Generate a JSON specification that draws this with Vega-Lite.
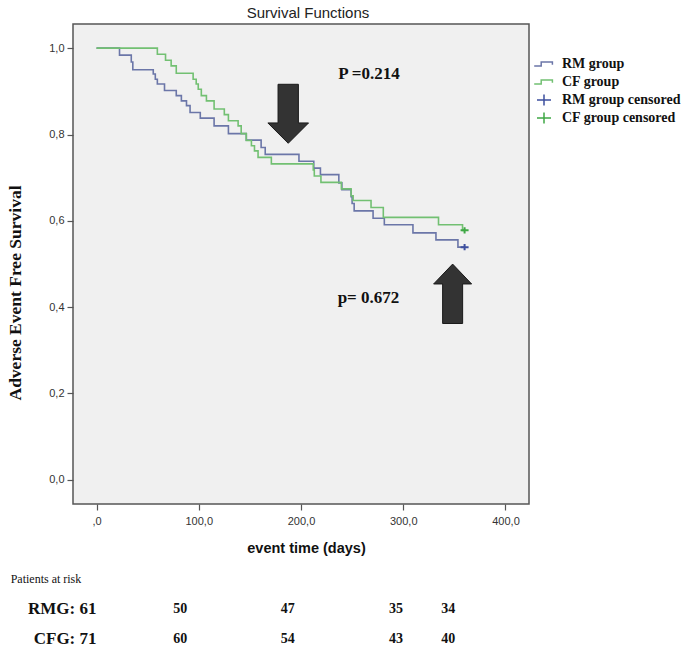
{
  "$schema": "https://vega.github.io/schema/vega-lite/v6.json",
  "background": "white",
  "padding": {"left": 5, "top": 5, "right": 0, "bottom": 0},
  "config": {"view": {"stroke": null}, "font": "Liberation Sans"},
  "datasets": {
    "curves": [
      {"series": "RM group", "time": 0, "surv": 1.0},
      {"series": "RM group", "time": 22.5, "surv": 0.984},
      {"series": "RM group", "time": 34, "surv": 0.968},
      {"series": "RM group", "time": 35.5, "surv": 0.95},
      {"series": "RM group", "time": 55.5, "surv": 0.94},
      {"series": "RM group", "time": 57.5, "surv": 0.928},
      {"series": "RM group", "time": 59.5, "surv": 0.917},
      {"series": "RM group", "time": 66.5, "surv": 0.902},
      {"series": "RM group", "time": 78, "surv": 0.89},
      {"series": "RM group", "time": 83, "surv": 0.878},
      {"series": "RM group", "time": 88, "surv": 0.867},
      {"series": "RM group", "time": 91.5, "surv": 0.851},
      {"series": "RM group", "time": 101.5, "surv": 0.838},
      {"series": "RM group", "time": 115, "surv": 0.82},
      {"series": "RM group", "time": 129, "surv": 0.802},
      {"series": "RM group", "time": 146.5, "surv": 0.787},
      {"series": "RM group", "time": 161, "surv": 0.77},
      {"series": "RM group", "time": 165, "surv": 0.754},
      {"series": "RM group", "time": 198, "surv": 0.738},
      {"series": "RM group", "time": 212.5, "surv": 0.722},
      {"series": "RM group", "time": 219, "surv": 0.707},
      {"series": "RM group", "time": 237, "surv": 0.688},
      {"series": "RM group", "time": 240, "surv": 0.672},
      {"series": "RM group", "time": 249, "surv": 0.656},
      {"series": "RM group", "time": 250, "surv": 0.64},
      {"series": "RM group", "time": 252, "surv": 0.623},
      {"series": "RM group", "time": 270.5, "surv": 0.606},
      {"series": "RM group", "time": 281.5, "surv": 0.591},
      {"series": "RM group", "time": 309.5, "surv": 0.572},
      {"series": "RM group", "time": 332, "surv": 0.556},
      {"series": "RM group", "time": 353.5, "surv": 0.539},
      {"series": "RM group", "time": 360, "surv": 0.539},
      {"series": "CF group", "time": 0, "surv": 1.0},
      {"series": "CF group", "time": 59.5, "surv": 0.986},
      {"series": "CF group", "time": 67.5, "surv": 0.972},
      {"series": "CF group", "time": 73, "surv": 0.959},
      {"series": "CF group", "time": 78, "surv": 0.942},
      {"series": "CF group", "time": 94.5, "surv": 0.928},
      {"series": "CF group", "time": 97.5, "surv": 0.917},
      {"series": "CF group", "time": 99.5, "surv": 0.905},
      {"series": "CF group", "time": 102.5, "surv": 0.89},
      {"series": "CF group", "time": 107.5, "surv": 0.878},
      {"series": "CF group", "time": 115, "surv": 0.859},
      {"series": "CF group", "time": 125, "surv": 0.846},
      {"series": "CF group", "time": 129, "surv": 0.832},
      {"series": "CF group", "time": 138.5, "surv": 0.82},
      {"series": "CF group", "time": 141.5, "surv": 0.802},
      {"series": "CF group", "time": 146.5, "surv": 0.786},
      {"series": "CF group", "time": 151.5, "surv": 0.774},
      {"series": "CF group", "time": 154.5, "surv": 0.762},
      {"series": "CF group", "time": 158, "surv": 0.747},
      {"series": "CF group", "time": 171, "surv": 0.732},
      {"series": "CF group", "time": 212, "surv": 0.718},
      {"series": "CF group", "time": 213, "surv": 0.704},
      {"series": "CF group", "time": 219.5, "surv": 0.689},
      {"series": "CF group", "time": 239.5, "surv": 0.674},
      {"series": "CF group", "time": 249, "surv": 0.658},
      {"series": "CF group", "time": 251, "surv": 0.647},
      {"series": "CF group", "time": 268.5, "surv": 0.631},
      {"series": "CF group", "time": 280.5, "surv": 0.608},
      {"series": "CF group", "time": 334.5, "surv": 0.591},
      {"series": "CF group", "time": 358, "surv": 0.578},
      {"series": "CF group", "time": 360, "surv": 0.578}
    ],
    "censored": [
      {"series": "RM group censored", "time": 360, "surv": 0.539},
      {"series": "CF group censored", "time": 360, "surv": 0.578}
    ],
    "arrows": [
      {"dir": "down", "x": 187.5, "y": 0.848},
      {"dir": "up", "x": 348.3, "y": 0.431}
    ],
    "notes": [
      {"x": 266.5, "y": 0.94, "label": "P =0.214"},
      {"x": 266, "y": 0.422, "label": "p= 0.672"}
    ],
    "risk": [
      {"kind": "header", "row": 1, "pos": -84, "label": "Patients at risk"},
      {"kind": "group", "row": 2, "pos": 0, "label": "RMG: 61"},
      {"kind": "group", "row": 3, "pos": 0, "label": "CFG:  71"},
      {"kind": "count", "row": 2, "pos": 82, "label": "50"},
      {"kind": "count", "row": 2, "pos": 187, "label": "47"},
      {"kind": "count", "row": 2, "pos": 293, "label": "35"},
      {"kind": "count", "row": 2, "pos": 344, "label": "34"},
      {"kind": "count", "row": 3, "pos": 82, "label": "60"},
      {"kind": "count", "row": 3, "pos": 187, "label": "54"},
      {"kind": "count", "row": 3, "pos": 293, "label": "43"},
      {"kind": "count", "row": 3, "pos": 344, "label": "40"}
    ]
  },
  "spacing": 8,
  "resolve": {"scale": {"x": "independent", "y": "independent"}},
  "vconcat": [
    {
      "width": 456,
      "height": 480,
      "title": {"text": "Survival Functions", "font": "Liberation Sans", "fontSize": 15, "fontWeight": "normal", "color": "#222222", "offset": 3, "anchor": "middle", "dx": 7},
      "view": {"fill": "#f0f0f0", "stroke": "#555555", "strokeWidth": 1.5},
      "layer": [
        {
          "data": {"name": "curves"},
          "mark": {"type": "line", "interpolate": "step-after", "strokeWidth": 1.6},
          "encoding": {
            "x": {
              "field": "time", "type": "quantitative",
              "scale": {"domain": [-23, 423], "nice": false, "zero": false},
              "axis": {
                "values": [0, 100, 200, 300, 400],
                "labelExpr": "datum.value == 0 ? ',0' : replace(format(datum.value, '.1f'), '.', ',')",
                "title": "event time  (days)",
                "titleFont": "Liberation Sans", "titleFontWeight": "bold", "titleFontSize": 14.5, "titleColor": "#111111",
                "titlePadding": 15, "titleX": 233,
                "domain": false, "grid": false, "tickColor": "#555555", "tickSize": 6, "tickWidth": 1.2,
                "labelFont": "Liberation Sans", "labelFontSize": 11, "labelColor": "#333333", "labelPadding": 5
              }
            },
            "y": {
              "field": "surv", "type": "quantitative",
              "scale": {"domain": [-0.056, 1.056], "nice": false, "zero": false},
              "axis": {
                "values": [0, 0.2, 0.4, 0.6, 0.8, 1.0],
                "labelExpr": "replace(format(datum.value, '.1f'), '.', ',')",
                "title": "Adverse Event Free Survival",
                "titleFont": "Liberation Serif", "titleFontWeight": "bold", "titleFontSize": 17.5, "titleColor": "#111111",
                "titleX": -52.5, "titleY": 268.5, "titleBaseline": "alphabetic", "titleAngle": 270, "titleAlign": "center",
                "domain": false, "grid": false, "tickColor": "#555555", "tickSize": 6, "tickWidth": 1.2,
                "labelFont": "Liberation Sans", "labelFontSize": 11, "labelColor": "#333333", "labelPadding": 3
              }
            },
            "color": {
              "field": "series", "type": "nominal",
              "scale": {"domain": ["RM group", "CF group", "RM group censored", "CF group censored"], "range": ["#6b76a8", "#72c072", "#3d4f9e", "#3fa845"]},
              "legend": {
                "title": null, "orient": "none", "legendX": 463, "legendY": 32,
                "labelFont": "Liberation Serif", "labelFontWeight": "bold", "labelFontSize": 14, "labelColor": "#111111",
                "symbolSize": 196, "symbolStrokeWidth": 1.5, "symbolFillColor": "transparent",
                "labelOffset": 10, "rowPadding": 0, "padding": 0
              }
            }
          }
        },
        {
          "data": {"name": "censored"},
          "mark": {"type": "point", "filled": false, "strokeWidth": 2, "size": 64, "opacity": 1},
          "encoding": {
            "x": {"field": "time", "type": "quantitative"},
            "y": {"field": "surv", "type": "quantitative"},
            "color": {"field": "series", "type": "nominal"},
            "shape": {
              "field": "series", "type": "nominal",
              "scale": {"domain": ["RM group", "CF group", "RM group censored", "CF group censored"], "range": ["M0,-0.8M0,0.8M-1.4,0.3H-0.4V-0.3H1.2V0.1", "M0,-0.8M0,0.8M-1.4,0.3H-0.4V-0.3H1.2V0.1", "M-1,0H1M0,-0.8V0.8", "M-1,0H1M0,-0.8V0.8"]}
            }
          }
        },
        {
          "data": {"name": "arrows"},
          "transform": [{"filter": "datum.dir == 'down'"}],
          "mark": {"type": "point", "shape": "M-0.345,-1L0.345,-1L0.345,0.31L0.69,0.31L0,1L-0.69,0.31L-0.345,0.31Z", "size": 3481, "filled": true, "fill": "#333333", "stroke": "#1a1a1a", "strokeWidth": 1, "opacity": 1},
          "encoding": {"x": {"field": "x", "type": "quantitative"}, "y": {"field": "y", "type": "quantitative"}}
        },
        {
          "data": {"name": "arrows"},
          "transform": [{"filter": "datum.dir == 'up'"}],
          "mark": {"type": "point", "shape": "M-0.337,1L0.337,1L0.337,-0.33L0.64,-0.33L0,-1L-0.64,-0.33L-0.337,-0.33Z", "size": 3530, "filled": true, "fill": "#333333", "stroke": "#1a1a1a", "strokeWidth": 1, "opacity": 1},
          "encoding": {"x": {"field": "x", "type": "quantitative"}, "y": {"field": "y", "type": "quantitative"}}
        },
        {
          "data": {"name": "notes"},
          "mark": {"type": "text", "font": "Liberation Serif", "fontWeight": "bold", "fontSize": 17, "color": "#111111", "align": "center", "baseline": "middle"},
          "encoding": {"x": {"field": "x", "type": "quantitative"}, "y": {"field": "y", "type": "quantitative"}, "text": {"field": "label"}}
        }
      ]
    },
    {
      "width": 456,
      "height": 90,
      "view": {"stroke": null},
      "encoding": {
        "x": {"field": "pos", "type": "quantitative", "scale": {"domain": [-23, 423], "nice": false, "zero": false}, "axis": null},
        "y": {"field": "row", "type": "ordinal", "scale": {"domain": [1, 2, 3]}, "axis": null},
        "text": {"field": "label"}
      },
      "layer": [
        {
          "data": {"name": "risk"},
          "transform": [{"filter": "datum.kind == 'header'"}],
          "mark": {"type": "text", "font": "Liberation Serif", "fontSize": 12, "color": "#111111", "align": "left", "baseline": "middle"}
        },
        {
          "data": {"name": "risk"},
          "transform": [{"filter": "datum.kind == 'group'"}],
          "mark": {"type": "text", "font": "Liberation Serif", "fontWeight": "bold", "fontSize": 17, "color": "#111111", "align": "right", "baseline": "middle"}
        },
        {
          "data": {"name": "risk"},
          "transform": [{"filter": "datum.kind == 'count'"}],
          "mark": {"type": "text", "font": "Liberation Serif", "fontWeight": "bold", "fontSize": 14, "color": "#111111", "align": "center", "baseline": "middle"}
        }
      ]
    }
  ]
}
